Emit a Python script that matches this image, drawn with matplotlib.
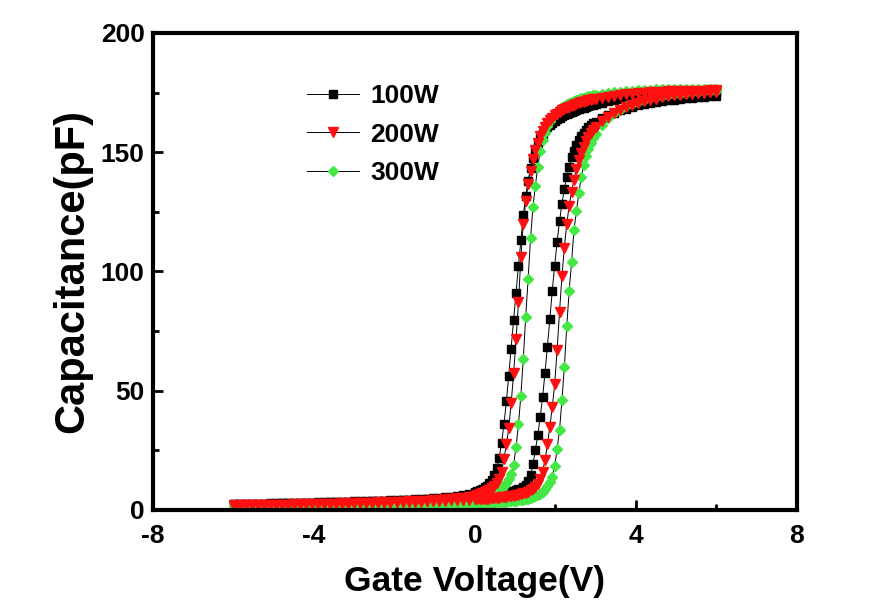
import numpy as np
from matplotlib import pyplot as plt

# gate bias sweep points (V)
v_low = np.linspace(-6.0, 0.0, 41)
v_mid = np.linspace(0.06, 3.0, 50)
v_high = np.linspace(3.15, 6.0, 20)
volts = np.concatenate([v_low, v_mid, v_high])

# capacitance (pF), sweep branch at higher voltage ("up") and lower voltage ("down")
c100_up = [2.4, 2.4, 2.5, 2.5, 2.6, 2.6, 2.7, 2.7, 2.8, 2.8,
           2.9, 2.9, 3.0, 3.0, 3.1, 3.1, 3.2, 3.2, 3.3, 3.3,
           3.4, 3.5, 3.5, 3.6, 3.7, 3.7, 3.8, 3.9, 4.0, 4.1,
           4.2, 4.3, 4.4, 4.5, 4.7, 4.8, 5.0, 5.2, 5.5, 5.8, 6.1,
           6.3, 6.4, 6.5, 6.6, 6.7, 6.8, 6.9, 7.0, 7.1, 7.2,
           7.3, 7.4, 7.5, 7.7, 7.9, 8.1, 8.3, 8.6, 9.0, 9.6,
           10.5, 12.0, 14.5, 19.2, 25.0, 31.5, 38.8, 47.5, 57.5, 68.5,
           80.0, 92.0, 102.5, 112.5, 121.0, 128.5, 134.5, 139.5, 144.0, 147.8,
           150.6, 153.0, 155.0, 156.7, 158.1, 159.3, 160.4, 161.3, 162.1, 162.8,
           164.3, 165.6, 166.6, 167.5, 168.3, 169.0, 169.6, 170.1, 170.6, 171.0,
           171.4, 171.7, 172.0, 172.3, 172.6, 172.8, 173.0, 173.2, 173.4, 173.6]
c100_down = [2.5, 2.5, 2.6, 2.6, 2.7, 2.7, 2.8, 2.8, 2.9, 2.9,
             3.0, 3.0, 3.1, 3.1, 3.2, 3.2, 3.3, 3.4, 3.4, 3.5,
             3.6, 3.6, 3.7, 3.8, 3.9, 3.9, 4.0, 4.1, 4.2, 4.3,
             4.4, 4.6, 4.7, 4.9, 5.1, 5.3, 5.6, 5.9, 6.3, 6.8, 7.4,
             7.9, 8.4, 8.9, 9.5, 10.2, 11.2, 12.6, 14.6, 17.6, 22.0,
             28.0, 36.0, 45.5, 56.0, 67.5, 79.5, 91.0, 102.5, 113.0, 123.5,
             131.5, 138.0, 143.5, 147.5, 151.0, 153.8, 156.0, 157.8, 159.3, 160.5,
             161.5, 162.4, 163.2, 163.9, 164.5, 165.1, 165.6, 166.1, 166.5, 166.9,
             167.3, 167.7, 168.0, 168.4, 168.7, 169.0, 169.3, 169.6, 169.9, 170.2,
             170.8, 171.3, 171.8, 172.2, 172.6, 173.0, 173.3, 173.6, 173.9, 174.1,
             174.3, 174.5, 174.6, 174.7, 174.8, 174.9, 175.0, 175.0, 175.1, 175.1]

c200_up = [1.8, 1.8, 1.9, 1.9, 2.0, 2.0, 2.1, 2.1, 2.2, 2.2,
           2.3, 2.3, 2.4, 2.4, 2.5, 2.5, 2.6, 2.6, 2.7, 2.7,
           2.8, 2.8, 2.9, 2.9, 3.0, 3.0, 3.1, 3.2, 3.2, 3.3,
           3.4, 3.5, 3.6, 3.7, 3.8, 3.9, 4.0, 4.1, 4.2, 4.3, 4.4,
           4.5, 4.6, 4.6, 4.7, 4.8, 4.8, 4.9, 5.0, 5.1, 5.2,
           5.3, 5.4, 5.5, 5.7, 5.8, 6.0, 6.2, 6.4, 6.7, 7.0,
           7.3, 7.7, 8.2, 8.8, 9.6, 10.8, 12.8, 16.0, 21.0, 27.5,
           35.0, 43.0, 53.0, 67.0, 83.0, 98.0, 110.0, 120.0, 127.5, 133.5,
           138.5, 143.0, 146.8, 149.8, 152.4, 154.6, 156.4, 158.0, 159.4, 160.6,
           163.0, 164.9, 166.5, 167.8, 168.9, 169.9, 170.7, 171.4, 172.0, 172.5,
           173.0, 173.4, 173.8, 174.1, 174.4, 174.6, 174.8, 175.0, 175.1, 175.2]
c200_down = [1.9, 1.9, 2.0, 2.0, 2.1, 2.1, 2.2, 2.2, 2.3, 2.3,
             2.4, 2.4, 2.5, 2.5, 2.6, 2.6, 2.7, 2.7, 2.8, 2.8,
             2.9, 3.0, 3.0, 3.1, 3.2, 3.2, 3.3, 3.4, 3.5, 3.6,
             3.7, 3.8, 3.9, 4.1, 4.2, 4.4, 4.6, 4.9, 5.2, 5.5, 5.9,
             6.3, 6.6, 7.0, 7.4, 7.9, 8.5, 9.2, 10.2, 11.5, 13.0,
             16.0, 21.5, 27.5, 34.5, 45.0, 57.5, 71.5, 87.0, 106.0, 120.0,
             129.5, 136.5, 142.0, 147.0, 150.8, 154.0, 156.7, 158.8, 160.6, 162.1,
             163.4, 164.5, 165.4, 166.2, 166.9, 167.5, 168.1, 168.6, 169.1, 169.5,
             169.9, 170.3, 170.6, 170.9, 171.2, 171.5, 171.8, 172.0, 172.2, 172.4,
             172.9, 173.3, 173.7, 174.0, 174.3, 174.6, 174.8, 175.0, 175.2, 175.3,
             175.4, 175.5, 175.6, 175.7, 175.7, 175.8, 175.8, 175.8, 175.9, 175.9]

c300_up = [1.2, 1.2, 1.2, 1.3, 1.3, 1.3, 1.4, 1.4, 1.4, 1.5,
           1.5, 1.5, 1.6, 1.6, 1.6, 1.7, 1.7, 1.7, 1.8, 1.8,
           1.8, 1.9, 1.9, 1.9, 2.0, 2.0, 2.0, 2.1, 2.1, 2.1,
           2.2, 2.2, 2.3, 2.3, 2.4, 2.4, 2.5, 2.5, 2.6, 2.6, 2.7,
           2.8, 2.8, 2.9, 2.9, 3.0, 3.0, 3.1, 3.1, 3.2, 3.3,
           3.3, 3.4, 3.5, 3.6, 3.7, 3.8, 3.9, 4.0, 4.2, 4.3,
           4.5, 4.7, 5.0, 5.3, 5.7, 6.2, 6.8, 7.6, 8.6, 10.0,
           11.6, 14.0, 18.5, 25.5, 33.5, 46.0, 60.0, 77.0, 92.0, 104.0,
           117.5, 125.5, 132.8, 139.5, 144.5, 148.3, 151.3, 153.8, 155.9, 157.7,
           161.5, 164.2, 166.3, 167.9, 169.2, 170.3, 171.2, 171.9, 172.6, 173.1,
           173.6, 174.0, 174.3, 174.6, 174.9, 175.1, 175.3, 175.5, 175.6, 175.7]
c300_down = [1.5, 1.5, 1.6, 1.6, 1.7, 1.7, 1.8, 1.8, 1.9, 1.9,
             2.0, 2.0, 2.1, 2.1, 2.2, 2.2, 2.3, 2.3, 2.4, 2.4,
             2.5, 2.5, 2.6, 2.6, 2.7, 2.7, 2.8, 2.9, 2.9, 3.0,
             3.1, 3.2, 3.3, 3.4, 3.5, 3.6, 3.7, 3.9, 4.1, 4.3, 4.5,
             4.7, 4.9, 5.1, 5.3, 5.6, 5.9, 6.3, 6.8, 7.4, 8.1,
             8.9, 9.9, 11.2, 12.8, 15.0, 19.0, 26.5, 36.0, 48.0, 63.5,
             81.0, 97.0, 114.0, 127.0, 136.0, 144.0, 150.5, 155.0, 158.3, 160.9,
             163.0, 164.7, 166.0, 167.1, 168.0, 168.8, 169.5, 170.1, 170.6, 171.1,
             171.5, 171.9, 172.3, 172.6, 172.9, 173.2, 173.4, 173.6, 173.8, 174.0,
             174.4, 174.8, 175.1, 175.4, 175.6, 175.8, 176.0, 176.1, 176.2, 176.3,
             176.4, 176.4, 176.5, 176.5, 176.5, 176.5, 176.5, 176.4, 176.4, 176.3]

labels = ['100W', '200W', '300W']

plt.rcParams['font.family'] = ['Liberation Sans', 'DejaVu Sans']
plt.rcParams['font.weight'] = 'bold'
plt.rcParams['axes.unicode_minus'] = False

fig = plt.figure(figsize=(8.71, 6.14), dpi=100)
ax = fig.add_axes([0.1757, 0.1694, 0.7393, 0.7769])

styles = {'100W': dict(marker='s', mfc='black', mec='black', ms=5.5),
          '200W': dict(marker='v', mfc='#ff1010', mec='#ff1010', ms=7),
          '300W': dict(marker='D', mfc='#44e844', mec='#44e844', ms=5)}
curves = {'100W': (c100_up, c100_down),
          '200W': (c200_up, c200_down),
          '300W': (c300_up, c300_down)}

handles = {}
# draw red last so it sits on top, like the original
for lab in ['100W', '300W', '200W']:
    up, down = curves[lab]
    v = np.concatenate([volts, volts[::-1]])
    c = np.concatenate([np.array(up), np.array(down)[::-1]])
    ln, = ax.plot(v, c, color='black', lw=0.7, label=lab, **styles[lab])
    handles[lab] = ln

ax.set_xlim(-8, 8)
ax.set_ylim(0, 200)
ax.set_xticks([-8, -4, 0, 4, 8])
ax.set_xticks([-6, -2, 2, 6], minor=True)
ax.set_yticks([0, 50, 100, 150, 200])
ax.set_yticks([25, 75, 125, 175], minor=True)
ax.tick_params(which='both', direction='in', width=2)
ax.tick_params(which='major', length=7, labelsize=19, pad=6)
ax.tick_params(axis='x', which='major', pad=10)
ax.tick_params(which='minor', length=4)
for sp in ax.spines.values():
    sp.set_linewidth(3)

ax.set_xlabel('Gate Voltage(V)', fontsize=25.5, fontweight='bold', labelpad=12)
ax.set_ylabel('Capacitance(pF)', fontsize=30, fontweight='bold', labelpad=6)

ax.legend([handles[l] for l in labels], labels, loc='upper left',
          bbox_to_anchor=(0.222, 0.915), frameon=False, fontsize=19,
          handlelength=2.0, labelspacing=0.55, handletextpad=0.4,
          borderaxespad=0)

fig.savefig('out.png', dpi=100)
